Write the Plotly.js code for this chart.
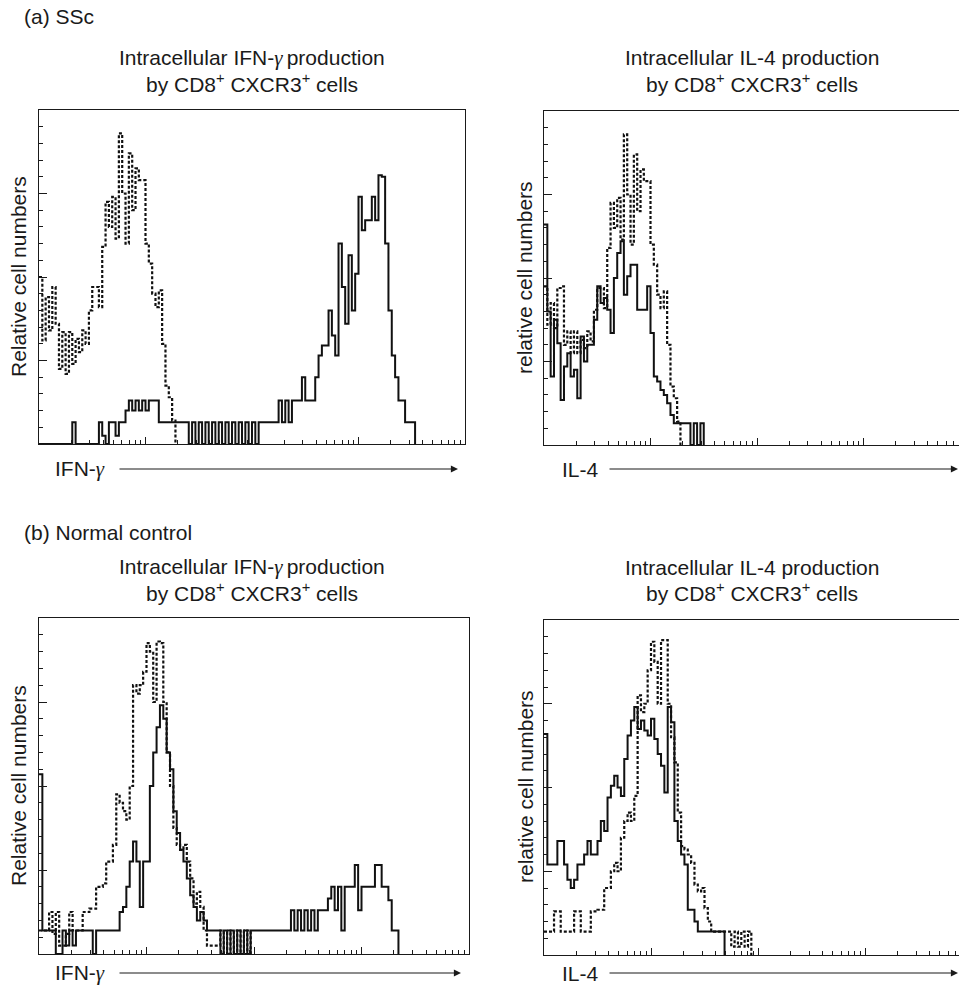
<!DOCTYPE html>
<html>
<head>
<meta charset="utf-8">
<script src="https://cdn.plot.ly/plotly-3.0.1.min.js"></script>
<style>
html,body{margin:0;padding:0;overflow:hidden;background:#fff;}
#chart{width:980px;height:987px;}
</style>
</head>
<body>
<div id="chart"></div>
<script>
// Histogram counts per channel (128 channels spanning 4 log decades)
const sscIfnSolid = [0,0,0,0,0,0,0,0,0,0, 13,0,0,0,0,0,0,0,13,5, 0,13,13,5,13,13,20,26,20,26,
  20,26,20,26,26,26,13,13,13,13, 13,13,13,13,13,0,13,0,13,0, 13,0,13,0,13,0,13,0,13,0,
  13,0,13,0,13,0,13,13,13,13, 13,13,26,13,26,13,26,26,26,40, 26,26,26,40,53,59,59,80,65,53,
  120,94,72,113,80,102,148,128,134,134, 148,134,161,160,120,80,53,40,26,26, 13,13,13,0];
const sscIfnIso = [100,62,88,68,94,72,45,67,42,67, 48,63,55,68,60,80,94,94,82,118,
  145,130,148,123,186,150,120,174,140,165, 158,158,120,108,90,82,92,60,35,28, 14,0];
const sscIl4Solid = [132,80,41,75,61,27,47,55,41,45, 28,65,50,60,60,75,95,85,88,81,
  67,100,115,122,90,101,108,108,81,81, 81,95,67,41,38,33,30,25,18,13, 13,13,13,13,0,13,0,13,0];
const sscIl4Iso = [95,72,85,70,94,95,60,68,55,68, 55,63,58,68,62,81,94,94,82,118,
  145,130,148,123,186,150,120,174,140,165, 158,158,120,108,90,82,92,60,35,28, 14,0];
const ncIfnSolid = [107,14,14,14,14,0,0,14,5,14, 5,14,14,14,14,14,0,14,14,14,
  14,14,14,14,25,28,40,55,67,55, 28,55,55,100,120,135,148,140,120,110,
  85,72,62,55,45,35,28,20,25,20, 14,14,14,14,0,14,0,14,0,14, 0,14,0,14,14,14,14,14,14,14,
  14,14,14,14,14,26,14,26,14,26, 14,26,14,26,26,26,33,40,26,40, 14,40,40,40,53,26,40,40,40,40,
  53,53,40,40,32,14,14,0];
const ncIfnIso = [14,14,14,25,12,25,5,5,12,25, 14,14,14,25,25,27,27,40,40,42,
  55,55,65,95,90,85,80,100,160,155, 160,168,185,180,150,186,185,150,120,100,
  75,65,62,65,55,45,30,37,28,14, 5,5,5,5,14,0,14,0,14,0, 14,0,14,0];
const ncIl4Solid = [132,54,54,54,68,68,54,45,40,45, 54,54,60,68,60,60,68,80,74,94,
  101,107,100,95,117,131,140,148,135,140, 134,131,141,129,120,113,97,148,139,80,
  68,60,54,27,27,20,14,14,14,14, 14,14,14,14,0];
const ncIl4Iso = [14,14,14,26,26,14,14,14,14,26, 26,14,14,14,26,26,27,27,40,40,
  50,55,50,70,80,85,80,95,155,145, 150,170,187,175,150,188,188,150,130,115,
  85,65,63,60,55,42,38,40,28,20, 14,14,14,14,14,14,5,14,5,14, 5,14,0];

const CHANNELS_PER_DECADE = 32;
const decadeTicks = [1,10,100,1000,10000];
const minorDigits = [2,3,4,5,6,7,8,9];

const W = 980, H = 987;
function chX(n){ const a=[]; for(let c=0;c<n;c++) a.push(Math.pow(10, c/CHANNELS_PER_DECADE)); return a; }
function dx(a,b){ return [a/W, b/W]; }
function dy(top,bottom){ return [(H-bottom)/H, (H-top)/H]; }

const minorVals = [];
decadeTicks.slice(0,4).forEach(d => minorDigits.forEach(m => minorVals.push(d*m)));

const INK = '#1a1a1a';
function xAxis(dom){
  return {domain:dom, type:'log', range:[0,4], showline:true, mirror:true, linecolor:INK, linewidth:1.4,
    ticks:'inside', ticklen:7, tickwidth:1, tickcolor:INK, tickmode:'array', tickvals:decadeTicks,
    showticklabels:false, showgrid:false, zeroline:false, fixedrange:true,
    minor:{ticks:'inside', ticklen:4, tickwidth:1, tickcolor:INK, tickmode:'array', tickvals:minorVals, showgrid:false}};
}
function yAxis(dom){
  return {domain:dom, range:[0,200], showline:true, mirror:true, linecolor:INK, linewidth:1.4,
    ticks:'inside', ticklen:8, tickwidth:1, tickcolor:INK, tick0:0, dtick:50,
    showticklabels:false, showgrid:false, zeroline:false, fixedrange:true,
    minor:{ticks:'inside', ticklen:4, tickwidth:1, tickcolor:INK, dtick:10, showgrid:false}};
}

function solid(y, xa, ya){ return {x:chX(y.length), y:y, xaxis:xa, yaxis:ya, mode:'lines', line:{shape:'hv', color:'#111', width:2}, hoverinfo:'skip'}; }
function dotted(y, xa, ya){ return {x:chX(y.length), y:y, xaxis:xa, yaxis:ya, mode:'lines', line:{shape:'hv', color:'#111', width:2.2, dash:'3px,2px'}, hoverinfo:'skip'}; }

const data = [
  dotted(sscIfnIso,'x','y'), solid(sscIfnSolid,'x','y'),
  dotted(sscIl4Iso,'x2','y2'), solid(sscIl4Solid,'x2','y2'),
  dotted(ncIfnIso,'x3','y3'), solid(ncIfnSolid,'x3','y3'),
  dotted(ncIl4Iso,'x4','y4'), solid(ncIl4Solid,'x4','y4')
];

const F = {family:'Liberation Sans, Arial, Helvetica, sans-serif', size:21, color:INK};
const gam = '<span style="font-family:Liberation Serif;font-style:italic">γ</span>';
function txt(text, x, y, opts){
  return Object.assign({text:text, x:x/W, y:(H-y)/H, xref:'paper', yref:'paper', showarrow:false, font:F, xanchor:'left', yanchor:'middle'}, opts||{});
}
function arrow(x0, x1, y){
  return {x:x1/W, y:(H-y)/H, xref:'paper', yref:'paper', ax:x0/W, ay:(H-y)/H, axref:'paper', ayref:'paper',
    text:'', showarrow:true, arrowhead:2, arrowsize:1.3, arrowwidth:1.1, arrowcolor:INK};
}

const annotations = [
  txt('(a) SSc', 22, 17),
  txt('Intracellular IFN-'+gam+'\u2009production', 252, 58, {xanchor:'center'}),
  txt('by CD8<sup>+</sup> CXCR3<sup>+</sup> cells', 252, 83, {xanchor:'center'}),
  txt('Intracellular IL-4 production', 752, 58, {xanchor:'center'}),
  txt('by CD8<sup>+</sup> CXCR3<sup>+</sup> cells', 752, 83, {xanchor:'center'}),
  txt('Relative cell numbers', 18, 277, {xanchor:'center', textangle:-90}),
  txt('relative cell numbers', 525, 278, {xanchor:'center', textangle:-90}),
  txt('IFN-'+gam, 53, 469),
  arrow(118, 458, 469),
  txt('IL-4', 560, 469),
  arrow(608, 958, 469),
  txt('(b) Normal control', 22, 532),
  txt('Intracellular IFN-'+gam+'\u2009production', 252, 567, {xanchor:'center'}),
  txt('by CD8<sup>+</sup> CXCR3<sup>+</sup> cells', 252, 592, {xanchor:'center'}),
  txt('Intracellular IL-4 production', 752, 567, {xanchor:'center'}),
  txt('by CD8<sup>+</sup> CXCR3<sup>+</sup> cells', 752, 592, {xanchor:'center'}),
  txt('Relative cell numbers', 18, 786, {xanchor:'center', textangle:-90}),
  txt('relative cell numbers', 525, 787, {xanchor:'center', textangle:-90}),
  txt('IFN-'+gam, 53, 973),
  arrow(118, 461, 973),
  txt('IL-4', 560, 973),
  arrow(608, 958, 973)
];

const layout = {
  width:W, height:H, margin:{l:0,r:0,t:0,b:0}, paper_bgcolor:'#fff', plot_bgcolor:'#fff', showlegend:false,
  xaxis: Object.assign(xAxis(dx(39,465)), {anchor:'y'}), yaxis: Object.assign(yAxis(dy(110,444)), {anchor:'x'}),
  xaxis2: Object.assign(xAxis(dx(544,970)), {anchor:'y2'}), yaxis2: Object.assign(yAxis(dy(111,445)), {anchor:'x2'}),
  xaxis3: Object.assign(xAxis(dx(39,469)), {anchor:'y3'}), yaxis3: Object.assign(yAxis(dy(618,954)), {anchor:'x3'}),
  xaxis4: Object.assign(xAxis(dx(544,972)), {anchor:'y4'}), yaxis4: Object.assign(yAxis(dy(620,955)), {anchor:'x4'}),
  annotations: annotations
};

Plotly.newPlot('chart', data, layout, {displayModeBar:false, staticPlot:true});
</script>
</body>
</html>
